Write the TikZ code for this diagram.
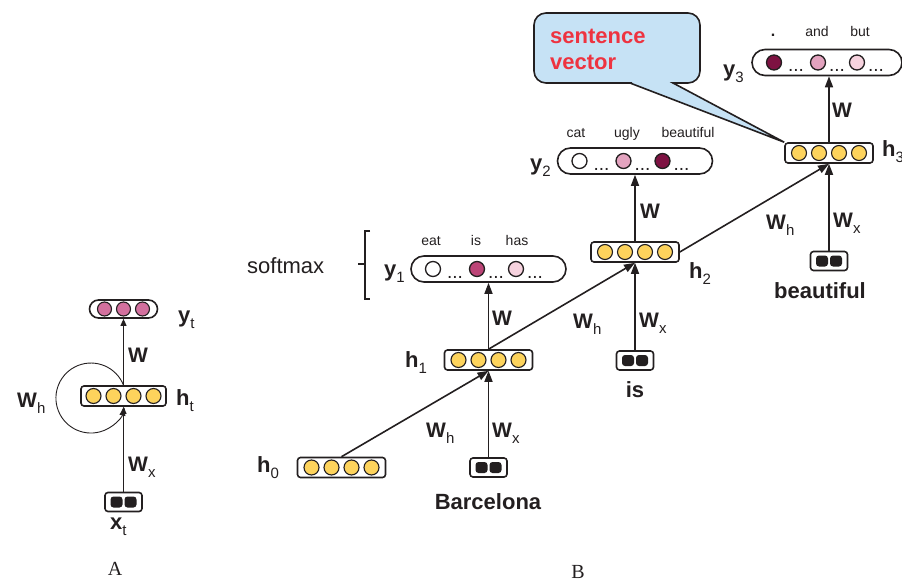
\documentclass[tikz,border=0pt]{standalone}
\usepackage{fontspec}
\setmainfont{Liberation Sans}
\newfontfamily\serifface{Liberation Serif}
\usetikzlibrary{arrows.meta,calc}

\definecolor{ink}{HTML}{231F20}
\definecolor{yel}{HTML}{FDD35C}
\definecolor{pinkA}{HTML}{D3709E}
\definecolor{isPink}{HTML}{BC4477}
\definecolor{lightPink}{HTML}{F6D2DE}
\definecolor{midPink}{HTML}{E3A3BF}
\definecolor{maroon}{HTML}{7E1242}
\definecolor{bubble}{HTML}{C6E2F5}
\definecolor{alert}{HTML}{EE3340}

\newcommand\fs[1]{\fontsize{#1}{#1}\selectfont}
% bold symbol with a regular, lowered index
\newcommand\sym[2]{\textbf{#1}\raisebox{-6pt}{\fontsize{15}{15}\selectfont\mdseries #2}}

\begin{document}
\begin{tikzpicture}[x=1pt,y=-1pt,
  every node/.style={text=ink},
  % hidden layer: four yellow units
  hbox/.style={draw=ink, line width=1.6pt, rounded corners=3pt, fill=white,
    minimum width=88pt, minimum height=20pt, inner sep=0pt,
    path picture={
      \foreach \dx in {-30,-10,10,30}
        \draw[draw=ink, line width=1.1pt, fill=yel]
          ($(path picture bounding box.center)+(\dx,0)$) circle[radius=7.5];
    }},
  % one-hot input word: two black cells
  xbox/.style={draw=ink, line width=1.6pt, rounded corners=3pt, fill=white,
    minimum width=37pt, minimum height=19pt, inner sep=0pt,
    path picture={
      \foreach \dx in {-7,7}
        \fill[ink] ($(path picture bounding box.center)+(\dx-6,-5.5)$) rectangle ++(12,11);
    }},
  % output of the folded network
  ytbox/.style={draw=ink, line width=1.6pt, rounded corners=9pt, fill=white,
    minimum width=68pt, minimum height=18pt, inner sep=0pt,
    path picture={
      \foreach \dx in {-19,0,19}
        \draw[draw=ink, line width=1.1pt, fill=pinkA]
          ($(path picture bounding box.center)+(\dx,0)$) circle[radius=7];
    }},
  % softmax output with three highlighted words
  ybox/.style n args={3}{draw=ink, line width=1.6pt, rounded corners=13pt, fill=white,
    minimum width=155pt, minimum height=26pt, inner sep=0pt,
    path picture={
      \foreach \dx/\c in {22/#1,66/#2,105/#3}
        \draw[draw=ink, line width=1.3pt, fill=\c]
          ($(path picture bounding box.west)+(\dx,0)$) circle[radius=7.5];
      \foreach \dx in {44,85,124}
        \node[anchor=base, inner sep=0pt, font=\fs{19}]
          at ($(path picture bounding box.west)+(\dx,9)$) {...};
    }},
  arr/.style={draw=ink, line width=1.6pt, -{Triangle[length=11pt,width=8pt]}},
  thinarr/.style={draw=ink, line width=0.9pt, -{Triangle[length=7pt,width=6pt]}},
  lab/.style={anchor=base west, inner sep=0pt, font=\fs{22}},
  wlab/.style={anchor=base west, inner sep=0pt, font=\fs{21}},
  word/.style={anchor=base, inner sep=0pt, font=\fs{14}},
  inword/.style={anchor=base, inner sep=0pt, font=\bfseries\fs{22}},
]
\path[use as bounding box] (0,0) rectangle (902,583);

% ---------------- folded recurrent network ----------------
\node[ytbox] (yt) at (123.5,309) {};
\node[hbox, minimum width=85pt] (ht) at (123.5,396) {};
\node[xbox] (xt) at (123.5,502) {};
\draw[thinarr] (xt) -- (ht);
\draw[thinarr] (ht) -- (yt);
\draw[thinarr, -{Triangle[length=8pt,width=6pt]}] (ht.north) arc[start angle=-21.5, end angle=-344, radius=35];

\node[lab] (ytl) at (178,322) {\sym{y}{t}};
\node[wlab] (wA) at (128,362) {\textbf{W}};
\node[wlab] (whA) at (17,407) {\sym{W}{h}};
\node[lab] (htl) at (176,405) {\sym{h}{t}};
\node[wlab] (wxA) at (128,471) {\sym{W}{x}};
\node[lab] (xtl) at (110,529) {\sym{x}{t}};
\node[inner sep=0pt, font=\serifface\fs{20}] (capA) at (115,569) {A};

% ---------------- unrolled network ----------------
\node[hbox] (h0) at (341.5,467.5) {};
\node[xbox] (x1) at (488.5,467.5) {};
\node[hbox] (h1) at (488.5,360) {};
\node[ybox={white}{isPink}{lightPink}] (y1) at (488.5,269) {};
\node[xbox] (x2) at (635,360.5) {};
\node[hbox] (h2) at (635,252) {};
\node[ybox={white}{midPink}{maroon}] (y2) at (635,161) {};
\node[xbox] (x3) at (829,261) {};
\node[hbox] (h3) at (829,153) {};
\node[ybox={maroon}{midPink}{lightPink}, minimum width=150pt] (y3) at (827,62.5) {};

\draw[arr] (h0.north) -- (h1.south);
\draw[arr] (x1) -- (h1);
\draw[arr] (h1) -- (y1);
\draw[arr] (h1.north) -- (h2.south);
\draw[arr] (x2) -- (h2);
\draw[arr] (h2) -- (y2);
\draw[arr] (h2.east) -- (h3.south);
\draw[arr] (x3) -- (h3);
\draw[arr] (h3.north) -- (h3.north |- y3.south);

% softmax bracket
\node[anchor=base west, inner sep=0pt, font=\fs{22}] (smax) at (247,273) {softmax};
\draw[ink, line width=1.3pt] (370,231) -| (365,299) -- (370,299);
\draw[ink, line width=1.3pt] (365,264) -- (358,264);

% labels, step 1
\node[lab] (h0l) at (257,472) {\sym{h}{0}};
\node[lab] (y1l) at (384,276) {\sym{y}{1}};
\node[word] (w11) at (431,245) {eat};
\node[word] (w12) at (476,245) {is};
\node[word] (w13) at (517,245) {has};
\node[wlab] (wy1) at (492,325) {\textbf{W}};
\node[lab] (h1l) at (405,367) {\sym{h}{1}};
\node[wlab] (wh1) at (426,437) {\sym{W}{h}};
\node[wlab] (wx1) at (492,437) {\sym{W}{x}};
\node[inword] (in1) at (488,509) {Barcelona};

% labels, step 2
\node[wlab] (wh2) at (573,328) {\sym{W}{h}};
\node[lab] (y2l) at (530,170) {\sym{y}{2}};
\node[word] (w21) at (576,138) {cat};
\node[word] (w22) at (627,138) {ugly};
\node[word] (w23) at (688,138) {beautiful};
\node[wlab] (wy2) at (640,218) {\textbf{W}};
\node[lab] (h2l) at (689,278) {\sym{h}{2}};
\node[wlab] (wx2) at (639,327) {\sym{W}{x}};
\node[inword] (in2) at (635,397) {is};

% labels, step 3
\node[wlab] (wh3) at (766,229) {\sym{W}{h}};
\node[wlab] (wx3) at (833,227) {\sym{W}{x}};
\node[inword] (in3) at (820,298) {beautiful};
\node[lab] (h3l) at (882,157) {\sym{h}{3}};
\node[wlab] (wy3) at (832,118) {\textbf{W}};
\node[lab] (y3l) at (723,77) {\sym{y}{3}};
\node[word, font=\bfseries\fs{16}] (w31) at (773,37) {.};
\node[word] (w32) at (817,37) {and};
\node[word] (w33) at (860,37) {but};

% speech bubble pointing at the last hidden state
\draw[draw=ink, line width=1.6pt, fill=bubble]
  (650,13) [rounded corners=12pt] -- (534,13) -- (534,83) -- (620,83)
  [sharp corners] -- (630,83) -- (h3.north west) -- (673,83) -- (683,83)
  [rounded corners=12pt] -- (700,83) -- (700,13) -- cycle;
\node[anchor=base west, inner sep=0pt, font=\bfseries\fs{22}, text=alert] (sv1) at (550,44) {sentence};
\node[anchor=base west, inner sep=0pt, font=\bfseries\fs{22}, text=alert] (sv2) at (550,70) {vector};

\node[inner sep=0pt, font=\serifface\fs{20}] (capB) at (578,572) {B};
\end{tikzpicture}
\end{document}
